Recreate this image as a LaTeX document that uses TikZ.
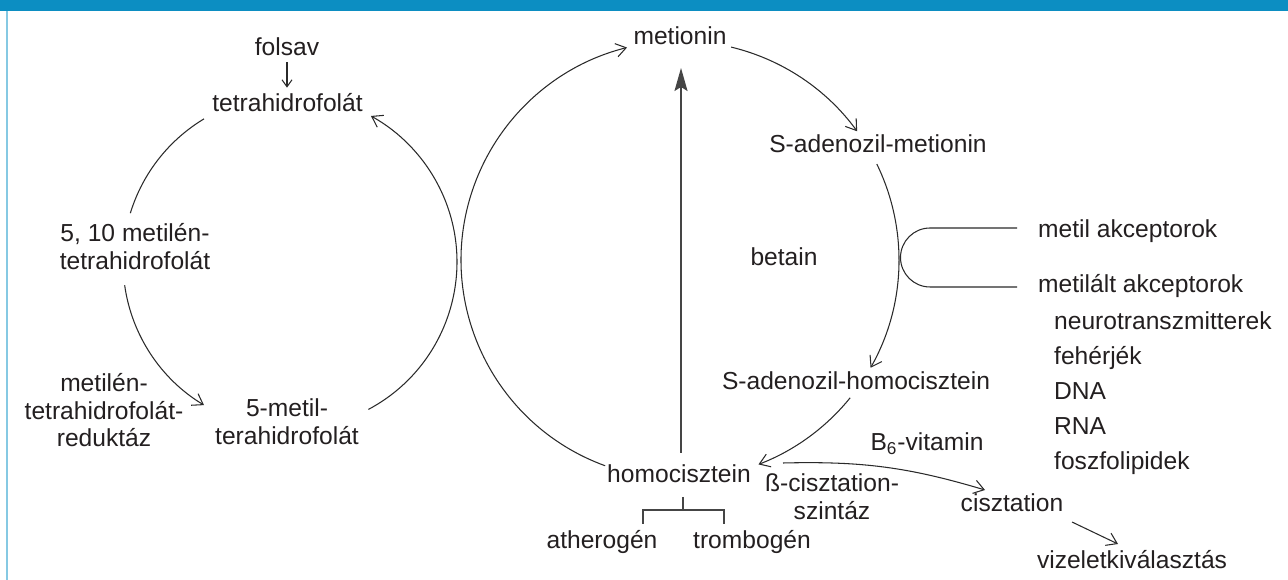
\documentclass[tikz,border=0pt]{standalone}
\usepackage{fontspec}
\setmainfont{Liberation Sans}
\usetikzlibrary{arrows.meta}
\definecolor{barblue}{HTML}{0C8EC2}
\definecolor{sideblue}{HTML}{86C9E3}
\definecolor{txt}{HTML}{231F20}
\definecolor{ln}{HTML}{2A2A2A}
\definecolor{gln}{HTML}{454545}
\newcommand{\mlbl}[1]{\begin{tabular}[t]{@{}c@{}}#1\end{tabular}}
\tikzset{
  lbl/.style={anchor=base, text=txt, font=\fontsize{14}{15.4}\selectfont},
  lblw/.style={lbl, anchor=base west},
  conn/.style={draw=ln, line width=0.6pt},
  openarr/.style={conn, -{Straight Barb[length=0.2cm,width=0.27cm,line width=0.6pt]}},
  bigarr/.style={draw=gln, line width=0.9pt, -{Stealth[length=0.46cm,width=0.26cm,inset=0.08cm]}},
  brk/.style={draw=gln, line width=0.8pt}
}
\begin{document}
\begin{tikzpicture}[x=0.02cm, y=-0.02cm]
\useasboundingbox (0,0) rectangle (1288,580);
% frame
\fill[barblue] (0,0) rectangle (1288,11.5);
\fill[sideblue] (6,11.5) rectangle (8.3,580);

% ---- left cycle labels
\node[lbl] (folsav) at (287,56) {folsav};
\node[lbl] (thf) at (287.5,112) {tetrahidrofolát};
\node[lbl] (m510) at (135,242) {\mlbl{5, 10 metilén-\\tetrahidrofolát}};
\node[lbl] (mtr) at (104,392) {\mlbl{metilén-\\tetrahidrofolát-\\reduktáz}};
\node[lbl] (fm) at (287,417) {\mlbl{5-metil-\\terahidrofolát}};

% ---- central cycle labels
\node[lbl] (met) at (680,45) {metionin};
\node[lbl] (sam) at (878,153) {S-adenozil-metionin};
\node[lbl] (bet) at (784,266) {betain};
\node[lbl] (sah) at (856,390) {S-adenozil-homocisztein};
\node[lbl] (homo) at (679,483) {homocisztein};
\node[lbl] (ath) at (602,548) {atherogén};
\node[lbl] (trom) at (752,548) {trombogén};
\node[lbl] (bcs) at (832,492) {\mlbl{ß-cisztation-\\szintáz}};
\node[lbl] (b6) at (927,451) {B\textsubscript{6}-vitamin};
\node[lbl] (cisz) at (1012,512) {cisztation};
\node[lbl] (viz) at (1132,568) {vizeletkiválasztás};

% ---- right list
\node[lblw] (ma) at (1032,238) {metil akceptorok};
\node[lblw] (mla) at (1032,293) {metilált akceptorok};
\node[lblw] (neu) at (1048,330) {neurotranszmitterek};
\node[lblw] (feh) at (1048,365) {fehérjék};
\node[lblw] (dna) at (1048,400) {DNA};
\node[lblw] (rna) at (1048,435) {RNA};
\node[lblw] (fos) at (1048,470) {foszfolipidek};

% ---- left circle
\coordinate (LC) at (290,262);
\path (LC) ++(121:3.34cm) coordinate (l1s);
\path (LC) ++(188:3.34cm) coordinate (l2s);
\path (LC) ++(-62:3.34cm) coordinate (l3s);
\draw[conn] (l1s) arc[start angle=121, end angle=163, radius=3.34cm];
\draw[openarr] (l2s) arc[start angle=188, end angle=239, radius=3.34cm];
\draw[openarr] (l3s) arc[start angle=-62, end angle=61, radius=3.34cm];
\draw[conn, -{Straight Barb[length=0.14cm,width=0.2cm,line width=0.6pt]}] (folsav.south) -- (folsav.south |- thf.north);

% ---- big circle
\coordinate (BC) at (680,260);
\path (BC) ++(250:4.38cm) coordinate (b1s);
\path (BC) ++(76.5:4.38cm) coordinate (b2s);
\path (BC) ++(26:4.38cm) coordinate (b3s);
\path (BC) ++(-39:4.38cm) coordinate (b4s);
\draw[openarr] (b1s) arc[start angle=250, end angle=104, radius=4.38cm];
\draw[openarr] (b2s) arc[start angle=76.5, end angle=36, radius=4.38cm];
\draw[openarr] (b3s) arc[start angle=26, end angle=-29.5, radius=4.38cm];
\draw[openarr] (b4s) arc[start angle=-39, end angle=-69, radius=4.38cm];

% vertical arrow homocisztein -> metionin
\coordinate (vb) at (681,453);
\coordinate (vt) at (681,68);
\draw[bigarr] (vb) -- (vt);

% bracket under homocisztein
\coordinate (hb0) at (683,497);
\coordinate (hb1) at (683,510);
\draw[brk] (hb0) -- (hb1);
\draw[brk] (643,524) -- (643,510) -- (724,510) -- (724,524);

% methyl acceptor U
\coordinate (uA) at (1017,228);
\coordinate (uB) at (1017,287);
\draw[conn] (uA) -- (930,228) arc[start angle=90, end angle=270, radius=0.59cm] -- (uB);

% homocisztein -> cisztation
\coordinate (hc0) at (783,463);
\coordinate (hc1) at (985,490);
\draw[openarr] (hc0) to[bend left=9] (hc1);

% cisztation -> vizeletkivalasztas
\coordinate (cv0) at (1072,522);
\coordinate (cv1) at (1118,544);
\draw[openarr] (cv0) -- (cv1);
\end{tikzpicture}
\end{document}
